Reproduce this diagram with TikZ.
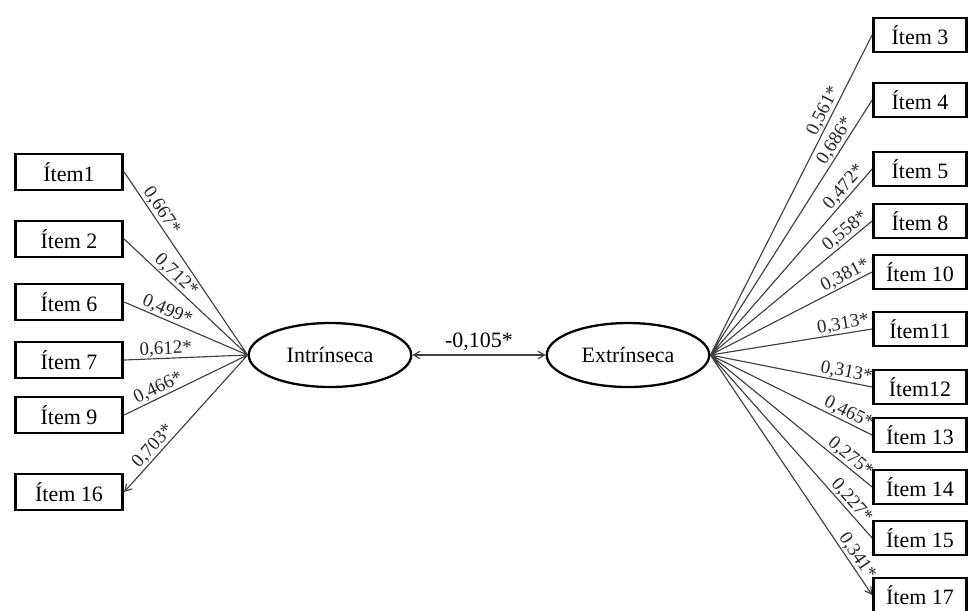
\documentclass[tikz,border=0pt]{standalone}
\usepackage{fontspec}
\setmainfont{Liberation Serif}
\usetikzlibrary{arrows, shapes.geometric, positioning}

\begin{document}
\begin{tikzpicture}[x=0.02cm, y=-0.02cm,
    item/.style={draw, line width=1.6pt, minimum width=2.15cm, minimum height=0.72cm, inner sep=0pt, font=\fontsize{12.5}{14}\selectfont},
    ritem/.style={item, minimum width=1.86cm, minimum height=0.68cm},
    factor/.style={draw, ellipse, line width=1.3pt, minimum width=3.25cm, minimum height=1.28cm, inner sep=0pt, font=\fontsize{12.5}{14}\selectfont},
    load/.style={->, >=angle 60, draw=black!75, line width=0.65pt},
    coef/.style={sloped, above, inner sep=0.5pt, font=\fontsize{10.8}{12}\selectfont, text=black!85}]
    \useasboundingbox (0,0) rectangle (970,610);

    % factors
    \node[factor] (int) at (330,355) {Intrínseca};
    \node[factor] (ext) at (628,355) {Extrínseca};

    % left items
    \node[item] (i1) at (69,172) {Ítem1};
    \node[item] (i2) at (69,239) {Ítem 2};
    \node[item] (i6) at (69,302) {Ítem 6};
    \node[item] (i7) at (69,360) {Ítem 7};
    \node[item] (i9) at (69,415) {Ítem 9};
    \node[item] (i16) at (69,492) {Ítem 16};

    % right items
    \node[ritem] (i3) at (920,35) {Ítem 3};
    \node[ritem] (i4) at (920,100) {Ítem 4};
    \node[ritem] (i5) at (920,169) {Ítem 5};
    \node[ritem] (i8) at (920,221) {Ítem 8};
    \node[ritem] (i10) at (920,272) {Ítem 10};
    \node[ritem] (i11) at (920,329) {Ítem11};
    \node[ritem] (i12) at (920,387) {Ítem12};
    \node[ritem] (i13) at (920,435) {Ítem 13};
    \node[ritem] (i14) at (920,487) {Ítem 14};
    \node[ritem] (i15) at (920,538) {Ítem 15};
    \node[ritem] (i17) at (920,595) {Ítem 17};

    \draw[load]
    (int.west) -- node[coef, pos=0.76] {0,667*} (i1.east)
    (int.west) -- node[coef, pos=0.63] {0,712*} (i2.east)
    (int.west) -- node[coef, pos=0.68] {0,499*} (i6.east)
    (int.west) -- node[coef, pos=0.66] {0,612*} (i7.east)
    (int.west) -- node[coef, pos=0.69] {0,466*} (i9.east)
    (int.west) -- node[coef, pos=0.71] {0,703*} (i16.east);

    \draw[load]
    (ext.east) -- node[coef, pos=0.75] {0,561*} (i3.west)
    (ext.east) -- node[coef, pos=0.82] {0,686*} (i4.west)
    (ext.east) -- node[coef, pos=0.87] {0,472*} (i5.west)
    (ext.east) -- node[coef, pos=0.87] {0,558*} (i8.west)
    (ext.east) -- node[coef, pos=0.86] {0,381*} (i10.west)
    (ext.east) -- node[coef, pos=0.83] {0,313*} (i11.west)
    (ext.east) -- node[coef, pos=0.83] {0,313*} (i12.west)
    (ext.east) -- node[coef, pos=0.83] {0,465*} (i13.west)
    (ext.east) -- node[coef, pos=0.83] {0,275*} (i14.west)
    (ext.east) -- node[coef, pos=0.83] {0,227*} (i15.west)
    (ext.east) -- node[coef, pos=0.86] {0,341*} (i17.west);

    \draw[load, <->] (int.east) -- node[above, inner sep=2pt, font=\fontsize{12.5}{14}\selectfont] {-0,105*} (ext.west);
\end{tikzpicture}
\end{document}
